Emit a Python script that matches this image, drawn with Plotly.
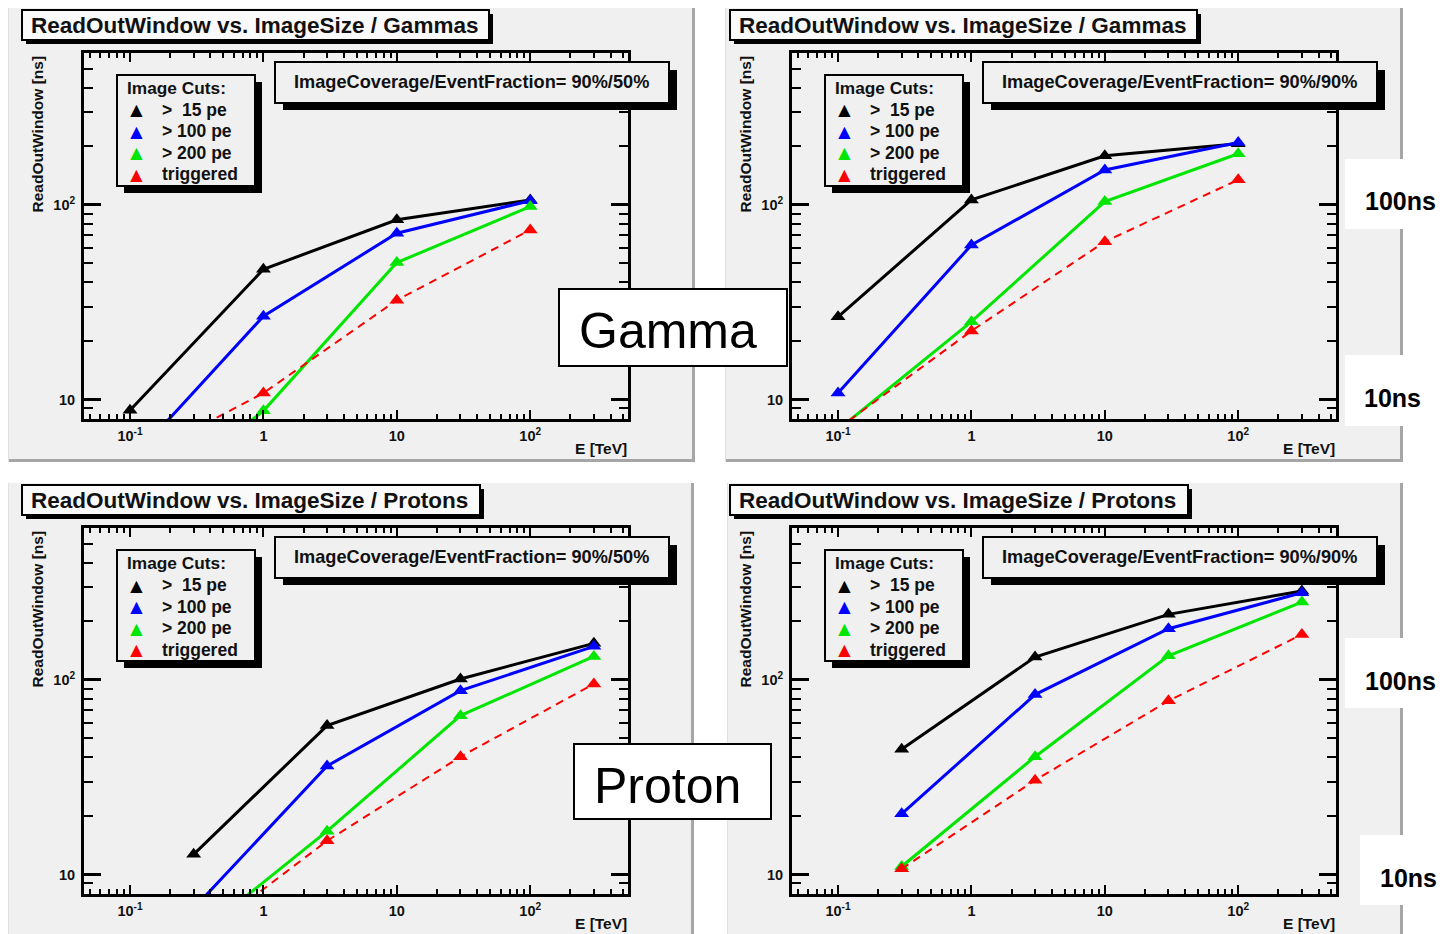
import plotly.graph_objects as go

# page body adds an 8px margin; the figure is sized to the rest of the window
OFF = 8
W, H = 1453 - OFF, 934 - OFF
FONT = "Liberation Sans, Arial, sans-serif"

# ---------------- data ----------------
energy_gamma = [0.1, 1, 10, 100]
energy_proton = [0.3, 3, 30, 300]

cut_labels = [">\u00a0\u00a015 pe", "> 100 pe", "> 200 pe", "triggered"]
cut_colors = ["#000000", "#0000ff", "#00e600", "#ff0000"]

# Gammas, ImageCoverage/EventFraction = 90%/50%
g50_15 = [8.8, 46.7, 83.8, 106]
g50_100 = [4.8, 26.8, 71.5, 105]
g50_200 = [2.5, 8.75, 50.5, 98]
g50_trig = [4.7, 10.8, 32.4, 74.3]

# Gammas, 90%/90%
g90_15 = [26.6, 106, 178.6, 206]
g90_100 = [10.8, 62.2, 151, 209]
g90_200 = [7.0, 25.1, 104, 183]
g90_trig = [7.1, 22.5, 64.7, 134.5]

# Protons, 90%/50%
p50_15 = [12.7, 58.2, 101, 154]
p50_100 = [6.7, 36.1, 88, 148.6]
p50_200 = [4.7, 16.7, 65.5, 132]
p50_trig = [4.5, 14.9, 40.3, 95.3]

# Protons, 90%/90%
p90_15 = [44, 131, 217, 286]
p90_100 = [20.5, 84, 183, 280]
p90_200 = [11, 40.3, 133, 251]
p90_trig = [10.7, 30.5, 78, 171]

x_tickvals = [0.1, 1, 10, 100]
x_ticktext = ["10<sup>-1</sup>", "1", "10", "10<sup>2</sup>"]
y_tickvals = [10, 100]
y_ticktext = ["10", "10<sup>2</sup>"]

panels = [
    dict(dx=0, dy=0, species="Gammas", frac="90%/50%", x=energy_gamma,
         series=[g50_15, g50_100, g50_200, g50_trig], title_r=489, bg=(8, 3, 695, 462)),
    dict(dx=708, dy=0, species="Gammas", frac="90%/90%", x=energy_gamma,
         series=[g90_15, g90_100, g90_200, g90_trig], title_r=489, bg=(725, 3, 1403, 462)),
    dict(dx=0, dy=475, species="Protons", frac="90%/50%", x=energy_proton,
         series=[p50_15, p50_100, p50_200, p50_trig], title_r=480, bg=(8, 483, 694, 940)),
    dict(dx=708, dy=475, species="Protons", frac="90%/90%", x=energy_proton,
         series=[p90_15, p90_100, p90_200, p90_trig], title_r=480, bg=(727, 483, 1403, 940)),
]


def px(x):
    return (x - OFF) / W


def py(y):
    return 1 - (y - OFF) / H


def rect(x0, y0, x1, y1, fill, line=None, lw=0, layer="above"):
    return dict(type="rect", xref="paper", yref="paper",
                x0=px(x0), x1=px(x1), y0=py(y1), y1=py(y0),
                fillcolor=fill, line=dict(color=line or fill, width=lw), layer=layer)


def seg(x0, y0, x1, y1, color, lw, layer="below"):
    return dict(type="line", xref="paper", yref="paper",
                x0=px(x0), x1=px(x1), y0=py(y0), y1=py(y1),
                line=dict(color=color, width=lw), layer=layer)


def text(x, y, s, size, xanchor="center", yanchor="middle", color="#111111",
         angle=0, weight="bold"):
    return dict(xref="paper", yref="paper", x=px(x), y=py(y), text=s, showarrow=False,
                xanchor=xanchor, yanchor=yanchor, textangle=angle,
                font=dict(family=FONT, size=size, color=color, weight=weight))


fig = go.Figure()
shapes = []
annotations = []
layout_axes = {}

for i, p in enumerate(panels):
    n = "" if i == 0 else str(i + 1)
    dx, dy = p["dx"], p["dy"]
    bx0, by0, bx1, by1 = p["bg"]
    # panel background and bevel
    shapes.append(rect(bx0, by0, bx1, by1, "#f0f0f0", layer="below"))
    shapes.append(seg(bx1 - 1.5, by0, bx1 - 1.5, by1, "#a6a6a6", 3))
    shapes.append(seg(bx0, by1 - 1.5, bx1, by1 - 1.5, "#a6a6a6", 3))
    shapes.append(seg(bx0 + 0.5, by0, bx0 + 0.5, by1, "#e0e0e0", 1))

    tickfont = dict(family=FONT, size=14.5, color="#111111", weight="bold")
    # axes
    layout_axes["xaxis" + n] = dict(
        type="log", range=[-1.345, 2.733],
        domain=[px(84 + dx), px(628 + dx)], anchor="y" + n,
        showline=True, linecolor="black", linewidth=3, mirror="ticks",
        ticks="inside", ticklen=9, tickwidth=2, tickcolor="black",
        tickmode="array", tickvals=x_tickvals, ticktext=x_ticktext,
        showgrid=False, zeroline=False,
        minor=dict(ticks="inside", ticklen=5, tickwidth=2, tickcolor="black",
                   dtick="D1", showgrid=False),
        tickfont=tickfont,
        ticklabelstandoff=2,
    )
    layout_axes["yaxis" + n] = dict(
        type="log", range=[0.9, 2.78],
        domain=[py(419 + dy), py(53 + dy)], anchor="x" + n,
        showline=True, linecolor="black", linewidth=3, mirror="ticks",
        ticks="inside", ticklen=17, tickwidth=3, tickcolor="black",
        tickmode="array", tickvals=y_tickvals, ticktext=y_ticktext,
        showgrid=False, zeroline=False,
        minor=dict(ticks="inside", ticklen=9, tickwidth=2, tickcolor="black",
                   dtick="D1", showgrid=False),
        tickfont=tickfont,
        ticklabelstandoff=3,
    )

    # data
    for k, ys in enumerate(p["series"]):
        dashed = k == 3
        fig.add_trace(go.Scatter(
            x=p["x"], y=ys, mode="lines+markers",
            line=dict(color=cut_colors[k], width=2 if dashed else 3,
                      dash="8px,6px" if dashed else "solid"),
            marker=dict(symbol="triangle-up", size=13, color=cut_colors[k]),
            xaxis="x" + n, yaxis="y" + n, showlegend=False,
            name=cut_labels[k].replace("\u00a0", " "),
        ))

    # title box
    shapes.append(rect(22 + dx + 4, 10 + dy + 4, p["title_r"] + dx + 4, 41 + dy + 3, "black"))
    shapes.append(rect(22 + dx, 10 + dy, p["title_r"] + dx, 40 + dy, "#fafafa", "black", 2))
    annotations.append(text(29 + dx, 25 + dy, "ReadOutWindow vs. ImageSize / " + p["species"],
                            22.5, xanchor="left", weight=600))

    # info box
    shapes.append(rect(275 + dx + 8, 62 + dy + 8, 669 + dx + 8, 103 + dy + 7, "black"))
    shapes.append(rect(275 + dx, 62 + dy, 669 + dx, 103 + dy, "#f0f0f0", "black", 2))
    annotations.append(text(471 + dx, 82 + dy, "ImageCoverage/EventFraction= " + p["frac"], 18.2))

    # legend box
    shapes.append(rect(117 + dx + 7, 75 + dy + 7, 255 + dx + 7, 186 + dy + 7, "black"))
    shapes.append(rect(117 + dx, 75 + dy, 255 + dx, 186 + dy, "#f0f0f0", "black", 2))
    annotations.append(text(125 + dx, 88 + dy, "Image Cuts:", 17.3, xanchor="left"))
    for k in range(4):
        yy = 110 + dy + k * 21.5
        annotations.append(text(136 + dx, yy, "\u25b2", 21, color=cut_colors[k], weight="normal"))
        annotations.append(text(160 + dx, yy, cut_labels[k], 17.5, xanchor="left"))

    # axis titles
    annotations.append(text(37 + dx, 54 + dy, "ReadOutWindow [ns]", 15.5, yanchor="top", angle=-90))
    annotations.append(text(629 + dx, 448 + dy, "E [TeV]", 15.5, xanchor="right"))

# outer labels
shapes.append(rect(559, 289, 787, 366, "white", "black", 2))
annotations.append(text(668, 331, "Gamma", 50, color="black", weight="normal"))
shapes.append(rect(574, 744, 771, 819, "white", "black", 2))
annotations.append(text(667, 786, "Proton", 50, color="black", weight="normal"))

shapes.append(rect(1345, 159, 1460, 229, "white"))
shapes.append(rect(1345, 355, 1460, 426, "white"))
shapes.append(rect(1345, 638, 1460, 708, "white"))
shapes.append(rect(1360, 835, 1460, 905, "white"))
annotations.append(text(1400, 201, "100ns", 25, color="black"))
annotations.append(text(1392, 398, "10ns", 25, color="black"))
annotations.append(text(1400, 681, "100ns", 25, color="black"))
annotations.append(text(1408, 878, "10ns", 25, color="black"))

fig.update_layout(
    width=W, height=H, autosize=False,
    margin=dict(l=0, r=0, t=0, b=0),
    paper_bgcolor="white", plot_bgcolor="rgba(0,0,0,0)",
    showlegend=False,
    shapes=shapes, annotations=annotations,
    font=dict(family=FONT, color="black"),
    **layout_axes,
)

fig.write_html("out.html")
